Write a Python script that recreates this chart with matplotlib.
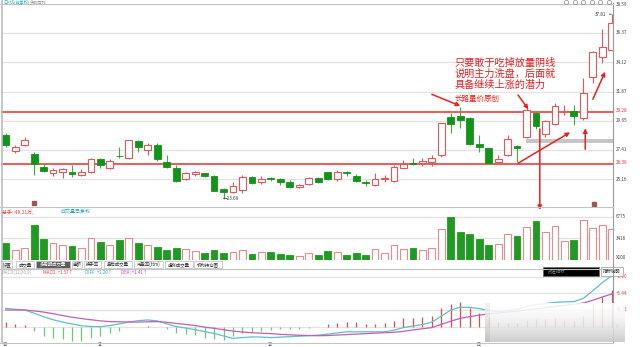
import numpy as np
import matplotlib
matplotlib.use('Agg')
import matplotlib.pyplot as plt
from matplotlib.patches import Rectangle
import matplotlib.transforms as mtrans

plt.rcParams['font.family'] = ['Noto Sans CJK SC', 'DejaVu Sans']

# ---------------- data ----------------
opens = [28.55, 27.33, 27.79, 27.08, 26.13, 25.62, 25.74, 25.74, 25.47, 25.74,
         26.69, 26.00, 26.98, 26.77, 28.12, 27.41, 27.79, 26.51, 26.05, 25.18,
         25.54, 25.62, 25.41, 24.39, 24.21, 24.34, 25.36, 24.95, 25.26, 25.18,
         24.98, 24.59, 24.78, 25.24, 25.70, 25.18, 25.70, 25.44, 24.98, 24.72,
         25.21, 25.05, 26.05, 26.39, 26.41, 26.51, 27.02, 29.96, 30.01, 29.88,
         27.84, 27.54, 26.46, 27.02, 27.73, 28.38, 30.26, 28.61, 29.40, 30.38,
         30.42, 29.86, 33.02, 34.51, 35.07]
highs = [28.71, 27.79, 28.42, 27.25, 26.31, 26.05, 26.03, 26.26, 25.93, 26.82,
         26.77, 26.69, 27.61, 28.20, 28.15, 27.96, 27.92, 27.02, 26.26, 25.74,
         25.80, 25.64, 25.49, 24.49, 24.98, 25.49, 25.45, 25.41, 25.36, 25.24,
         25.11, 24.78, 25.36, 25.36, 25.74, 25.87, 25.82, 25.57, 25.11, 25.62,
         25.49, 26.26, 26.64, 26.79, 26.79, 27.02, 29.48, 30.22, 30.68, 29.92,
         28.55, 27.56, 27.02, 28.55, 27.79, 30.60, 30.28, 29.70, 31.03, 30.85,
         30.85, 32.90, 34.96, 36.65, 37.81]
lows = [27.66, 27.18, 27.71, 25.49, 25.74, 25.41, 25.24, 25.36, 25.41, 25.62,
        26.05, 25.93, 26.77, 26.69, 27.27, 27.02, 26.59, 26.05, 24.98, 25.11,
        25.44, 25.31, 24.23, 23.69, 24.13, 24.09, 24.80, 24.80, 25.03, 24.72,
        24.52, 24.52, 24.72, 24.85, 25.11, 25.05, 25.41, 24.98, 24.67, 24.67,
        24.98, 24.98, 26.00, 26.22, 26.18, 26.18, 26.89, 28.73, 29.07, 27.79,
        27.27, 26.33, 26.39, 26.95, 26.51, 28.30, 28.99, 28.38, 29.32, 30.08,
        29.32, 29.70, 32.52, 34.09, 35.05]
closes = [27.79, 27.66, 28.17, 26.31, 25.82, 25.87, 25.93, 25.57, 25.74, 26.69,
          26.26, 26.59, 26.91, 28.17, 27.61, 27.79, 26.69, 26.13, 25.05, 25.67,
          25.70, 25.44, 24.29, 24.21, 24.67, 25.36, 24.90, 25.16, 25.21, 24.95,
          24.59, 24.72, 25.24, 24.98, 25.18, 25.70, 25.62, 25.05, 24.85, 25.16,
          25.26, 26.13, 26.31, 26.31, 26.60, 26.77, 29.45, 29.37, 29.70, 27.87,
          27.61, 26.43, 26.69, 28.23, 27.54, 30.47, 29.24, 29.63, 30.78, 30.43,
          30.01, 31.81, 34.94, 35.32, 37.16]
volume = [2750, 1555, 1970, 5440, 3265, 2750, 2440, 2230, 1970, 3530,
          2850, 2330, 3220, 3530, 2750, 2440, 2070, 1660, 1970, 1820,
          1400, 1200, 1555, 1140, 1290, 1660, 930, 1290, 1290, 1040,
          890, 670, 1140, 890, 1450, 1290, 890, 1200, 780, 1710,
          1200, 2440, 1820, 1910, 1555, 1970, 4930, 6730, 4400, 4150,
          3370, 2330, 2600, 4040, 3730, 5180, 6110, 4400, 5290, 2950,
          3220, 6220, 5020, 5550, 4930]
diff = [0.79, 0.75, 0.72, 0.58, 0.43, 0.30, 0.20, 0.12, 0.04, 0.01,
        0.00, 0.05, 0.12, 0.20, 0.26, 0.29, 0.25, 0.12, 0.01, -0.06,
        -0.13, -0.21, -0.29, -0.40, -0.50, -0.47, -0.44, -0.45, -0.47, -0.45,
        -0.43, -0.41, -0.39, -0.36, -0.32, -0.27, -0.22, -0.22, -0.22, -0.22,
        -0.22, -0.15, -0.04, 0.03, 0.09, 0.20, 0.45, 0.72, 0.84, 0.83,
        0.78, 0.70, 0.65, 0.70, 0.75, 0.88, 0.95, 1.00, 1.05, 1.07,
        1.08, 1.22, 1.55, 1.90, 2.20]
dea = [0.72, 0.72, 0.72, 0.68, 0.63, 0.56, 0.48, 0.41, 0.35, 0.30,
       0.25, 0.22, 0.21, 0.20, 0.20, 0.21, 0.22, 0.19, 0.14, 0.10,
       0.05, -0.02, -0.07, -0.13, -0.19, -0.23, -0.26, -0.28, -0.30, -0.33,
       -0.35, -0.37, -0.38, -0.39, -0.38, -0.36, -0.34, -0.32, -0.30, -0.28,
       -0.26, -0.24, -0.20, -0.14, -0.09, -0.04, 0.10, 0.24, 0.36, 0.43,
       0.50, 0.55, 0.59, 0.63, 0.67, 0.72, 0.77, 0.82, 0.87, 0.92,
       0.97, 1.02, 1.14, 1.28, 1.41]
macd = [0.20, 0.10, 0.07, -0.19, -0.40, -0.47, -0.55, -0.62, -0.62, -0.47,
        -0.40, -0.29, -0.19, -0.03, -0.03, 0.02, -0.03, -0.09, -0.26, -0.33,
        -0.37, -0.47, -0.55, -0.57, -0.40, -0.26, -0.23, -0.19, -0.16, -0.11,
        -0.11, -0.09, -0.04, -0.03, 0.10, 0.17, 0.22, 0.19, 0.11, 0.11,
        0.17, 0.26, 0.36, 0.39, 0.43, 0.46, 0.79, 0.96, 1.05, 0.82,
        0.57, 0.40, 0.20, 0.15, 0.18, 0.30, 0.35, 0.35, 0.36, 0.30,
        0.25, 0.45, 1.00, 1.29, 1.57]
price_ticks = [25.16, 27.41, 29.65, 31.87, 34.12, 36.37, 38.59]
level_lines = [26.36, 30.28]
vol_ticks = [3418, 6775]
macd_ticks = [0.72, 1.44, 2.16]
month_labels = ['10', '11', '12', '01']
month_index = [0, 10, 28, 50]
tab_labels = ['设置', '成交量', '多周期成交量', '金额', '换手率', '盘后成交量',
              '市盈率(ttm)', '虚拟成交量', '机构持仓图']
note_lines = ['只要敢于吃掉放量阴线', '说明主力洗盘，后面就', '具备继续上涨的潜力']
note_sign = '长路量价原创'

# ---------------- layout ----------------
W, H = 640, 347
fig = plt.figure(figsize=(6.4, 3.47), dpi=100)
fig.patch.set_facecolor('white')


def rect(x0, y0, x1, y1):
    return [x0 / W, 1 - y1 / H, (x1 - x0) / W, (y1 - y0) / H]


n = len(opens)
idx = np.arange(n)
XL = (-0.5, 64.13)

ax = fig.add_axes(rect(1, 4, 613, 206))
axv = fig.add_axes(rect(1, 208, 613, 260.3))
axm = fig.add_axes(rect(1, 268, 613, 342))
for a in (ax, axv, axm):
    a.set_xlim(*XL)
    for s in a.spines.values():
        s.set_visible(False)
    a.set_xticks([])
    a.set_yticks([])
    a.patch.set_alpha(0)
ax.set_ylim(23.115, 38.59)
axv.set_ylim(0, 8129)
axm.set_ylim(-0.66, 2.53)

RED = '#e2585a'
RED_V = '#e98a8c'
GREEN = '#12941a'
GREEN_W = '#3fae3f'
GRID = '#e3e3e3'
LVL = '#ee2c2c'
LAB = '#444444'
FS = 3.3

# gridlines
for p in price_ticks:
    ax.axhline(p, color=GRID, lw=0.9, zorder=0)
for v in vol_ticks:
    axv.axhline(v, color=GRID, lw=0.9, zorder=0)
for m in macd_ticks + [0]:
    axm.axhline(m, color=GRID, lw=0.9, zorder=0)

# level lines
for p in level_lines:
    ax.axhline(p, color=LVL, lw=1.1, zorder=1)

# gray band
ax.add_patch(Rectangle((54.95, 27.92), 20, 0.30, facecolor='#c6c6c6',
                       edgecolor='none', zorder=1))

# candles
for i in range(n):
    o, h, l, c = opens[i], highs[i], lows[i], closes[i]
    up = c >= o
    lo_b, hi_b = min(o, c), max(o, c)
    body = max(hi_b - lo_b, 0.05)
    if up:
        ax.vlines(i, l, lo_b, color=RED, lw=0.8, zorder=2)
        ax.vlines(i, lo_b + body, h, color=RED, lw=0.8, zorder=2)
        ax.add_patch(Rectangle((i - 0.36, lo_b), 0.72, body, facecolor='white',
                               edgecolor=RED, lw=0.8, zorder=3))
    else:
        ax.vlines(i, l, h, color=GREEN_W, lw=0.8, zorder=2)
        ax.add_patch(Rectangle((i - 0.36, lo_b), 0.72, body, facecolor=GREEN,
                               edgecolor=GREEN, lw=0.6, zorder=3))

# volume
for i in range(n):
    up = closes[i] >= opens[i]
    if up:
        axv.add_patch(Rectangle((i - 0.36, 0), 0.72, volume[i], facecolor='white',
                                edgecolor=RED_V, lw=0.8, zorder=2))
    else:
        axv.add_patch(Rectangle((i - 0.36, 0), 0.72, volume[i], facecolor='#1f9a22',
                                edgecolor='#1f9a22', lw=0.6, zorder=2))

# macd
for i in range(n):
    axm.vlines(i, 0, macd[i], color='#e24a4a' if macd[i] >= 0 else '#6cc86c',
               lw=0.9, zorder=2)
axm.plot(idx, diff, color='#5fbfc6', lw=0.9, zorder=3)
axm.plot(idx, dea, color='#c45db4', lw=0.9, zorder=3)

# right axis labels
xr = 616 / W
tr = mtrans.blended_transform_factory(fig.transFigure, ax.transData)
for t in price_ticks:
    ax.text(xr, t, '{:.2f}'.format(t), transform=tr, fontsize=FS, color=LAB,
            va='center', ha='left', clip_on=False)
for p in level_lines:
    ax.text(xr, p + 0.12, '{:.2f}'.format(p), transform=tr, fontsize=FS,
            color=LVL, va='center', ha='left', clip_on=False)
trv = mtrans.blended_transform_factory(fig.transFigure, axv.transData)
for v in vol_ticks:
    axv.text(xr, v, str(v), transform=trv, fontsize=FS, color=LAB, va='center',
             ha='left', clip_on=False)
axv.text(xr, 450, 'X100', transform=trv, fontsize=FS, color=LAB, va='center',
         ha='left', clip_on=False)
trmc = mtrans.blended_transform_factory(fig.transFigure, axm.transData)
for m in macd_ticks:
    axm.text(xr, m, '+{:.2f}'.format(m), transform=trmc, fontsize=FS,
             color='#e03c3c', va='center', ha='left', clip_on=False)
axm.text(xr, 0, '0', transform=trmc, fontsize=FS, color=LAB, va='center',
         ha='left', clip_on=False)

# month labels
trx = mtrans.blended_transform_factory(axm.transData, fig.transFigure)
for lab, i in zip(month_labels, month_index):
    axm.text(i - 0.3, 1 - 345 / H, lab, transform=trx, fontsize=FS,
             color='#333333', ha='left', va='center', clip_on=False)

# price extremes
hi_i = int(np.argmax(highs))
lo_i = int(np.argmin(lows))
ax.annotate('{:.2f}'.format(highs[hi_i]), xy=(hi_i - 0.05, highs[hi_i]),
            xytext=(hi_i - 0.55, highs[hi_i]), fontsize=FS, color='#333333',
            ha='right', va='center',
            arrowprops=dict(arrowstyle='-', color='#333333', lw=0.6,
                            shrinkA=0, shrinkB=0))
ax.text(lo_i - 0.1, lows[lo_i], '←{:.2f}'.format(lows[lo_i]), fontsize=FS,
        color='#333333', ha='left', va='center')

# event markers
ax.plot([3, 62.1], [23.33, 23.30], ls='none', marker='s', ms=2.6,
        color='#a4524c', zorder=4, clip_on=False)

# annotation text
for k, s in enumerate(note_lines):
    ax.text(47.4, 34.07 - k * 0.84, s, fontsize=7.3, color='#e51e1e',
            ha='left', va='center', zorder=6)
ax.text(47.4, 31.35, note_sign, fontsize=5.4, color='#e51e1e', ha='left',
        va='center', zorder=6)

# arrows
ap = dict(arrowstyle='-|>', color='#e82222', lw=1.1, mutation_scale=6,
          shrinkA=0, shrinkB=0)
arrows = [((45.0, 31.67), (48.0, 30.78)),
          ((54.1, 31.62), (55.2, 30.52)),
          ((54.1, 26.39), (59.6, 28.76)),
          ((56.4, 29.02), (56.4, 22.81)),
          ((61.2, 27.46), (61.2, 29.07)),
          ((62.0, 31.29), (63.3, 33.40))]
for start, end in arrows:
    ax.annotate('', xy=end, xytext=start, arrowprops=ap, annotation_clip=False,
                zorder=7)

# ---------------- chrome overlay ----------------
ov = fig.add_axes([0, 0, 1, 1], zorder=10)
ov.set_xlim(0, W)
ov.set_ylim(H, 0)
ov.axis('off')
ov.patch.set_alpha(0)

# borders
ov.plot([1.5, 1.5], [0, 343], color='#bdbdbd', lw=1.2)
ov.plot([613, 613], [3, 343], color='#9a9a9a', lw=0.8)
for y in (3.5, 207, 268.5, 342.5):
    ov.plot([0, 613], [y, y], color='#c4c4c4', lw=0.8)

# header
ov.text(3, 1.8, '日K线(前复权)', fontsize=3.0, color='#2aa7b5', va='center')
ov.text(30, 1.8, '多股同列', fontsize=3.0, color='#999999', va='center')
for k in range(6):
    ov.plot(566 + k * 8.5, 1.8, marker='o', ms=3, mfc='none', mec='#888888',
            mew=0.5)

# volume header
ov.text(2, 212, '总手: 48.21万;', fontsize=3.6, color='#e0403c', va='center')
ov.text(61, 212, '成交量已复权', fontsize=3.6, color='#2aa7b5', va='center')

# tabs
tab_edges = [(3, 12), (16, 34), (36, 70), (72, 82), (84, 101), (104, 132),
             (134, 163), (165, 193), (194, 222)]
for lab, (x0, x1) in zip(tab_labels, tab_edges):
    sel = lab == '多周期成交量'
    ov.add_patch(Rectangle((x0, 260.5), x1 - x0, 7.5,
                           facecolor='#5d5d5d' if sel else 'white',
                           edgecolor='#bbbbbb', lw=0.5))
    ov.text((x0 + x1) / 2, 264.3, lab, fontsize=3.2,
            color='white' if sel else '#333333', ha='center', va='center')

# MACD header
ov.text(2, 272.5, 'MACD(12,26,9)', fontsize=3.2, color='#aaaaaa', va='center')
ov.text(43, 272.5, 'MACD: +1.57↑', fontsize=3.2, color='#e0403c', va='center')
ov.text(85, 272.5, 'DIFF: +2.20↑', fontsize=3.2, color='#2aa7b5', va='center')
ov.text(121, 272.5, 'DEA: +1.41↑', fontsize=3.2, color='#c040a8', va='center')

ov.add_patch(Rectangle((543, 267), 56, 9, facecolor='black', edgecolor='#666666',
                       lw=0.5))
ov.text(548, 271.5, '改进指标', fontsize=3.2, color='#888888', va='center')
ov.add_patch(Rectangle((601, 267), 22, 9, facecolor='white', edgecolor='#999999',
                       lw=0.5))
ov.text(612, 271.5, '指标说明', fontsize=3.2, color='#333333', va='center',
        ha='center')

# blurred watermark patch
hh, ww = 40, 140
yy = np.linspace(0, 1, hh)[:, None] * np.ones((1, ww))
xx = np.ones((hh, 1)) * np.linspace(0, 1, ww)[None, :]
shade = 1.0 - 0.22 * yy ** 1.6 - 0.06 * (xx < 0.03)
img = np.zeros((hh, ww, 4))
img[..., 0] = shade
img[..., 1] = shade
img[..., 2] = shade
img[..., 3] = 0.88
ov.imshow(img, extent=(485, 625, 342, 303), aspect='auto', zorder=20,
          interpolation='bilinear')
ov.set_xlim(0, W)
ov.set_ylim(H, 0)

fig.savefig('out.png', dpi=100, facecolor='white')
